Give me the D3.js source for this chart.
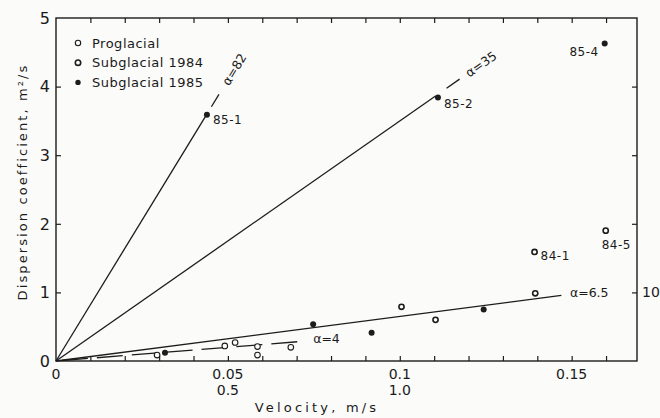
<!DOCTYPE html>
<html><head><meta charset="utf-8">
<script src="https://cdn.jsdelivr.net/npm/d3@7"></script>
<style>
html,body{margin:0;padding:0;background:#fbfbf9;}
svg{display:block;font-family:"DejaVu Sans",sans-serif;fill:#1a1a1a;}
</style></head><body>
<svg id="c" width="660" height="418"></svg>
<script>
// ---- data ----
const proglacialV = [0.0294, 0.0491, 0.0521, 0.0586, 0.0586, 0.0683];
const proglacialD = [0.087, 0.22, 0.27, 0.21, 0.087, 0.20];
const sub1984V = [0.1005, 0.1104, 0.1394, 0.1392, 0.1599];
const sub1984D = [0.79, 0.60, 0.987, 1.59, 1.90];
const sub1985V = [0.0317, 0.0748, 0.0918, 0.1244, 0.0439, 0.1111, 0.1596];
const sub1985D = [0.12, 0.535, 0.41, 0.75, 3.59, 3.84, 4.63];
const pointLabels = ["85-1", "85-2", "85-4", "84-1", "84-5"];
const pointLabelV = [0.0439, 0.1111, 0.1596, 0.1392, 0.1599];
const pointLabelD = [3.59, 3.84, 4.63, 1.59, 1.90];
const alphaValues = [82, 35, 6.5, 4];
const alphaLabels = ["α=82", "α=35", "α=6.5", "α=4"];
const alphaSolidEnd = [0.0434, 0.1104, 0.147, 0.072];
const alphaDashStart = [0.0452, 0.1136, null, null];
const alphaDashEnd = [0.0474, 0.1174, null, null];
const xTickValues = [0, 0.05, 0.1, 0.15];
const xTickLabels = ["0", "0.05", "0.1", "0.15"];
const xTickLabels2 = ["", "0.5", "1.0", ""];
const yTickValues = [0, 1, 2, 3, 4, 5];
const yTickLabels = ["0", "1", "2", "3", "4", "5"];
const rightTickLabels = ["", "10", "", "", "", ""];
const legendLabels = ["Proglacial", "Subglacial 1984", "Subglacial 1985"];

// ---- layout ----
const svg = d3.select("#c");
const L = 56, R = 637, T = 18, B = 361;
const x = d3.scaleLinear().domain([0, 0.169]).range([L, R]);
const y = d3.scaleLinear().domain([0, 5]).range([B, T]);
const ink = "#1c1c1c";
const paper = "#fbfbf9";

// frame
svg.append("rect").attr("x", L).attr("y", T).attr("width", R - L).attr("height", B - T)
  .attr("fill", "none").attr("stroke", ink).attr("stroke-width", 1.4);

// minor ticks via axes
const minor = d3.range(1, 17).map(i => i * 0.01);
const axB = svg.append("g").attr("transform", `translate(0,${B})`)
  .call(d3.axisBottom(x).tickValues(minor).tickSize(-5).tickFormat(""));
const axT = svg.append("g").attr("transform", `translate(0,${T})`)
  .call(d3.axisTop(x).tickValues(minor).tickSize(-5).tickFormat(""));
const axL = svg.append("g").attr("transform", `translate(${L},0)`)
  .call(d3.axisLeft(y).tickValues([1, 2, 3, 4]).tickSize(-5).tickFormat(""));
const axR = svg.append("g").attr("transform", `translate(${R},0)`)
  .call(d3.axisRight(y).tickValues([1, 2, 3, 4]).tickSize(-5).tickFormat(""));
[axB, axT, axL, axR].forEach(g => {
  g.select(".domain").remove();
  g.selectAll("line").attr("stroke", ink).attr("stroke-width", 1.2);
});

// tick labels
svg.append("g").selectAll("text").data(xTickValues).join("text")
  .attr("x", d => x(d)).attr("y", 379).attr("text-anchor", "middle")
  .attr("font-size", 14).text((d, i) => xTickLabels[i]);
svg.append("g").selectAll("text").data(xTickValues).join("text")
  .attr("x", d => x(d)).attr("y", 395).attr("text-anchor", "middle")
  .attr("font-size", 14).text((d, i) => xTickLabels2[i]);
svg.append("g").selectAll("text").data(yTickValues).join("text")
  .attr("x", 50).attr("y", d => y(d)).attr("dy", "0.36em").attr("text-anchor", "end")
  .attr("font-size", 16).text((d, i) => yTickLabels[i]);
svg.append("g").selectAll("text").data(yTickValues).join("text")
  .attr("x", 642).attr("y", d => y(d)).attr("dy", "0.36em").attr("text-anchor", "start")
  .attr("font-size", 14).text((d, i) => rightTickLabels[i]);

// axis titles
svg.append("text").attr("x", 317).attr("y", 412).attr("text-anchor", "middle")
  .attr("font-size", 13).attr("letter-spacing", "3.2px").text("Velocity, m/s");
svg.append("text").attr("transform", "translate(27,182) rotate(-90)").attr("text-anchor", "middle")
  .attr("font-size", 13).attr("letter-spacing", "2.1px")
  .text("Dispersion coefficient, m²/s");

// alpha lines
const lineG = svg.append("g").attr("stroke", ink).attr("stroke-width", 1.3).attr("fill", "none");
alphaValues.forEach((a, i) => {
  const ln = lineG.append("line")
    .attr("x1", x(0)).attr("y1", y(0))
    .attr("x2", x(alphaSolidEnd[i])).attr("y2", y(a * alphaSolidEnd[i]));
  if (a === 4) ln.attr("stroke-dasharray", "26,9").attr("stroke-dashoffset", -6);
  if (alphaDashStart[i] !== null) {
    lineG.append("line")
      .attr("x1", x(alphaDashStart[i])).attr("y1", y(a * alphaDashStart[i]))
      .attr("x2", x(alphaDashEnd[i])).attr("y2", y(a * alphaDashEnd[i]));
  }
});

// alpha labels
function slopeAngle(a) {
  const dx = x(1) - x(0), dy = y(0) - y(a);
  return -Math.atan2(dy, dx) * 180 / Math.PI;
}
const labelPos = [
  {v: 0.0492, rot: true}, {v: 0.1195, rot: true},
  {v: 0.1495, rot: false}, {v: 0.0748, rot: false}
];
alphaValues.forEach((a, i) => {
  const p = labelPos[i];
  const px = x(p.v), py = y(a * p.v);
  const t = svg.append("text").attr("font-size", 12.5).attr("dy", "0.35em")
    .text(alphaLabels[i]);
  if (p.rot) {
    t.attr("transform", `translate(${px},${py}) rotate(${slopeAngle(a)})`);
  } else {
    t.attr("x", px).attr("y", py - 2);
  }
});

// points
const ptG = svg.append("g");
ptG.selectAll(".pg").data(proglacialV).join("circle")
  .attr("cx", d => x(d)).attr("cy", (d, i) => y(proglacialD[i])).attr("r", 2.8)
  .attr("fill", paper).attr("stroke", ink).attr("stroke-width", 1.1);
ptG.selectAll(".s84").data(sub1984V).join("circle")
  .attr("cx", d => x(d)).attr("cy", (d, i) => y(sub1984D[i])).attr("r", 2.6)
  .attr("fill", paper).attr("stroke", ink).attr("stroke-width", 1.6);
ptG.selectAll(".s85").data(sub1985V).join("circle")
  .attr("cx", d => x(d)).attr("cy", (d, i) => y(sub1985D[i])).attr("r", 3)
  .attr("fill", ink);

// point labels
const plOff = [[6, 5, "start"], [6, 6, "start"], [-6, 8, "end"], [6, 4, "start"], [-4, 14, "start"]];
svg.append("g").selectAll("text").data(pointLabels).join("text")
  .attr("x", (d, i) => x(pointLabelV[i]) + plOff[i][0])
  .attr("y", (d, i) => y(pointLabelD[i]) + plOff[i][1])
  .attr("dy", "0.35em").attr("text-anchor", (d, i) => plOff[i][2])
  .attr("font-size", 12).attr("letter-spacing", "0.5px").text(d => d);

// legend
const lg = svg.append("g");
legendLabels.forEach((lab, i) => {
  const cy = 43 + i * 19.7;
  const c = lg.append("circle").attr("cx", 78).attr("cy", cy).attr("r", 2.7);
  if (i === 0) c.attr("fill", paper).attr("stroke", ink).attr("stroke-width", 1.1);
  else if (i === 1) c.attr("fill", paper).attr("stroke", ink).attr("stroke-width", 1.6);
  else c.attr("fill", ink);
  lg.append("text").attr("x", 92).attr("y", cy).attr("dy", "0.36em")
    .attr("font-size", 13).attr("letter-spacing", "0.5px").text(lab);
});
</script>
</body></html>
